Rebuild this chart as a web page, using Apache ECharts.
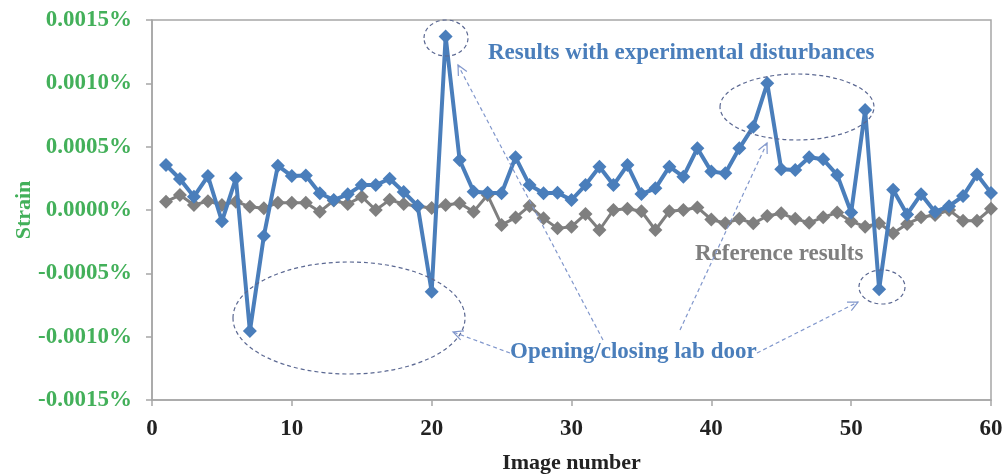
<!DOCTYPE html>
<html>
<head>
<meta charset="utf-8">
<script src="https://cdn.jsdelivr.net/npm/echarts@6/dist/echarts.min.js"></script>
<style>
html,body{margin:0;padding:0;background:#fff;}
#chart{width:1005px;height:476px;}
</style>
</head>
<body>
<div id="chart"></div>
<script>
// Image number (x values)
var imageNumbers = [1,2,3,4,5,6,7,8,9,10,11,12,13,14,15,16,17,18,19,20,
  21,22,23,24,25,26,27,28,29,30,31,32,33,34,35,36,37,38,39,40,
  41,42,43,44,45,46,47,48,49,50,51,52,53,54,55,56,57,58,59,60];

// Strain (%) — results with experimental disturbances
var disturbed = [0.000355,0.000245,0.000105,0.000268,-0.000089,0.000250,-0.000956,-0.000205,0.000350,0.000268,
  0.000272,0.000132,0.000079,0.000124,0.000197,0.000197,0.000247,0.000142,0.000032,-0.000645,
  0.001369,0.000395,0.000145,0.000137,0.000132,0.000416,0.000197,0.000132,0.000137,0.000079,
  0.000197,0.000342,0.000197,0.000355,0.000126,0.000171,0.000342,0.000263,0.000487,0.000303,
  0.000290,0.000487,0.000658,0.001000,0.000321,0.000316,0.000416,0.000400,0.000276,-0.000020,
  0.000790,-0.000626,0.000160,-0.000035,0.000125,-0.000015,0.000030,0.000110,0.000280,0.000135];

// Strain (%) — reference results
var reference = [0.000066,0.000118,0.000040,0.000070,0.000040,0.000066,0.000026,0.000013,0.000058,0.000058,
  0.000058,-0.000013,0.000075,0.000047,0.000105,0.000000,0.000080,0.000047,0.000030,0.000015,
  0.000040,0.000053,-0.000013,0.000118,-0.000118,-0.000060,0.000032,-0.000066,-0.000145,-0.000132,
  -0.000032,-0.000158,0.000000,0.000010,-0.000010,-0.000158,-0.000010,0.000000,0.000020,-0.000075,
  -0.000105,-0.000070,-0.000105,-0.000047,-0.000026,-0.000070,-0.000100,-0.000058,-0.000020,-0.000090,
  -0.000132,-0.000105,-0.000184,-0.000110,-0.000058,-0.000040,0.000000,-0.000084,-0.000084,0.000010];

// Axis tick settings
var xTicks = {min:0, max:60, interval:10};
var yTicks = {min:-0.0015, max:0.0015, interval:0.0005};

// Annotation texts
var labelDisturbed = 'Results with experimental disturbances';
var labelReference = 'Reference results';
var labelDoor = 'Opening/closing lab door';

function pairs(ys){ return imageNumbers.map(function(x,i){ return [x, ys[i]]; }); }

var serif = '"Liberation Serif","DejaVu Serif",serif';
var blue = '#4a7ebb', gray = '#7f7f7f', green = '#43b05a';
var ellColor = '#5b6892', arrowColor = '#8197cc';

function arrow(x1,y1,x2,y2){
  var dx = x2-x1, dy = y2-y1, L = Math.sqrt(dx*dx+dy*dy);
  var ux = dx/L, uy = dy/L, h = 11, a = 0.45;
  var c = Math.cos(a), s = Math.sin(a);
  var p1 = [x2 - h*(ux*c - uy*s), y2 - h*(uy*c + ux*s)];
  var p2 = [x2 - h*(ux*c + uy*s), y2 - h*(uy*c - ux*s)];
  return [
    {type:'line', shape:{x1:x1,y1:y1,x2:x2,y2:y2}, style:{stroke:arrowColor, lineWidth:1.2, lineDash:[4,3]}, z:10},
    {type:'polyline', shape:{points:[p1,[x2,y2],p2]}, style:{stroke:arrowColor, lineWidth:1.2, fill:null}, z:10}
  ];
}
function ellipse(cx,cy,rx,ry){
  return {type:'ellipse', shape:{cx:cx,cy:cy,rx:rx,ry:ry}, style:{stroke:ellColor, lineWidth:1.2, lineDash:[4,3], fill:null}, z:10};
}
function label(t,x,y,color){
  return {type:'text', x:x, y:y, style:{text:t, fill:color, font:'bold 23px '+serif, textVerticalAlign:'middle'}, z:10};
}

var graphics = [
  ellipse(446,38,22,18),
  ellipse(349,318,116,56),
  ellipse(797,107,77,33),
  ellipse(882,287,23,17),
  label(labelDisturbed,488,53,blue),
  label(labelReference,695,254,gray),
  label(labelDoor,510,352,blue)
].concat(arrow(603,340,458,65))
 .concat(arrow(680,330,767,143))
 .concat(arrow(510,353,453,332))
 .concat(arrow(757,353,858,302));

var chart = echarts.init(document.getElementById('chart'));
chart.setOption({
  animation:false,
  backgroundColor:'#fff',
  grid:{left:152, top:20, right:14, bottom:76, outerBoundsMode:'none', containLabel:false,
        show:true, borderColor:'#a6a6a6', borderWidth:1.5},
  xAxis:{
    type:'value', min:xTicks.min, max:xTicks.max, interval:xTicks.interval,
    name:'Image number', nameLocation:'middle', nameGap:52, nameMoveOverlap:false,
    nameTextStyle:{fontFamily:serif, fontWeight:'bold', fontSize:22, color:'#222'},
    axisLine:{onZero:false, lineStyle:{color:'#a6a6a6', width:1.5}},
    axisTick:{show:true, length:6, lineStyle:{color:'#a6a6a6', width:1.5}},
    axisLabel:{margin:18, fontFamily:serif, fontWeight:'bold', fontSize:23, color:'#222'},
    splitLine:{show:false}
  },
  yAxis:{
    type:'value', min:yTicks.min, max:yTicks.max, interval:yTicks.interval,
    name:'Strain', nameLocation:'middle', nameGap:117, nameMoveOverlap:false,
    nameTextStyle:{fontFamily:serif, fontWeight:'bold', fontSize:22, color:green},
    axisLine:{show:true, lineStyle:{color:'#a6a6a6', width:1.5}},
    axisTick:{show:true, length:6, lineStyle:{color:'#a6a6a6', width:1.5}},
    axisLabel:{margin:20, fontFamily:serif, fontWeight:'bold', fontSize:23, color:green,
      formatter:function(v){ var s=(Math.round(v*1e4)/1e4).toFixed(4); if(s==='-0.0000') s='0.0000'; return s+'%'; }},
    splitLine:{show:false}
  },
  series:[
    {type:'line', name:labelReference, data:pairs(reference), symbol:'diamond', symbolSize:14,
     lineStyle:{color:gray, width:3}, itemStyle:{color:gray}, z:2},
    {type:'line', name:labelDisturbed, data:pairs(disturbed), symbol:'diamond', symbolSize:14,
     lineStyle:{color:blue, width:4}, itemStyle:{color:blue}, z:3}
  ],
  graphic:graphics
});
</script>
</body>
</html>
